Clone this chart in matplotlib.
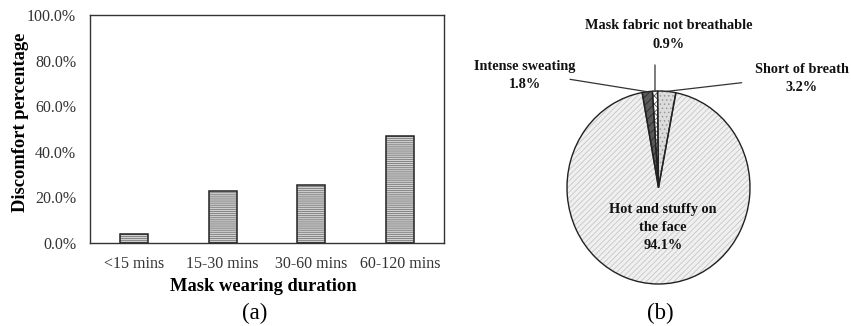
import numpy as np
import matplotlib
matplotlib.use('Agg')
import matplotlib.pyplot as plt

# Fonts: Times-like serif for everything
plt.rcParams['font.family'] = ['Liberation Serif', 'DejaVu Serif']
plt.rcParams['hatch.linewidth'] = 0.6

# ---- data ----
durations = ['<15 mins', '15-30 mins', '30-60 mins', '60-120 mins']
discomfort_pct = [4.1, 22.9, 25.3, 47.0]
y_ticks = [0, 20, 40, 60, 80, 100]

reasons = ['Intense sweating', 'Mask fabric not breathable', 'Short of breath',
           'Hot and stuffy on\nthe face']
reason_pct = [1.8, 0.9, 3.2, 94.1]

fig = plt.figure(figsize=(8.51, 3.26), dpi=100)
W, H = 851.0, 326.0

# ---- (a) bar chart ----
ax = fig.add_axes([90 / W, 1 - 243 / H, 354 / W, 228 / H])
x = np.arange(len(durations))
# hatch layer (edge colour drives hatch colour), then the outline on top
ax.bar(x, discomfort_pct, width=0.32, color='#d0d0d0', edgecolor='#7a7a7a',
       hatch='-' * 8, linewidth=0)
ax.bar(x, discomfort_pct, width=0.32, fill=False, edgecolor='#222222', linewidth=1.1)
ax.set_xlim(-0.5, len(durations) - 0.5)
ax.set_ylim(0, 100)
ax.set_yticks(y_ticks)
ax.set_yticklabels([f'{v:.1f}%' for v in y_ticks])
ax.set_xticks(x)
ax.set_xticklabels(durations)
ax.tick_params(axis='both', length=0, labelsize=11.5, colors='#333333')
ax.tick_params(axis='y', pad=10)
ax.tick_params(axis='x', pad=9)
for s in ax.spines.values():
    s.set_color('#333333')
    s.set_linewidth(1.0)
ax.set_xlabel('Mask wearing duration', fontsize=13.3, fontweight='bold')
ax.set_ylabel('Discomfort percentage', fontsize=13.3, fontweight='bold')
ax.xaxis.set_label_coords(0.49, -0.155)
ax.yaxis.set_label_coords(-0.172, 0.528)

fig.text(255 / W, 1 - 313 / H, '(a)', fontsize=16.5, ha='center', va='center')

# ---- (b) pie chart ----
rx, ry = 91.5, 96.5
cx, cy = 658.5, 187.5
pax = fig.add_axes([(cx - 1.25 * rx) / W, (H - cy - 1.25 * ry) / H,
                    2.5 * rx / W, 2.5 * ry / H])
faces = ['#5a5a5a', '#ffffff', '#dcdcdc', '#f0f0f0']
hatch_cols = ['#2a2a2a', '#555555', '#9a9a9a', '#c6c6c6']
hatches = ['////', 'xxxx', '....', '//////']
wedges, _ = pax.pie(reason_pct, startangle=100.3, counterclock=False,
                    colors=faces, wedgeprops=dict(linewidth=0))
for w, hc, h in zip(wedges, hatch_cols, hatches):
    w.set_edgecolor(hc)
    w.set_hatch(h)
pax.pie(reason_pct, startangle=100.3, counterclock=False,
        wedgeprops=dict(fill=False, edgecolor='#222222', linewidth=1.0))
pax.set_aspect('auto')
pax.set_xlim(-1.25, 1.25)
pax.set_ylim(-1.25, 1.25)
pax.axis('off')


def mid_point(w):
    a = np.deg2rad((w.theta1 + w.theta2) / 2)
    return np.cos(a), np.sin(a)


lbl = dict(fontsize=10.3, fontweight='bold', ha='center', va='center', color='#111111')
line = dict(arrowstyle='-', color='#333333', lw=0.9, shrinkA=0, shrinkB=0)

# Intense sweating
ex, ey = mid_point(wedges[0])
pax.annotate('', xy=(ex, ey), xytext=(-0.967, 1.121), arrowprops=line)
pax.text(-1.46, 1.16, f'{reasons[0]}\n{reason_pct[0]}%', linespacing=1.55, **lbl)

# Mask fabric not breathable
ex, ey = mid_point(wedges[1])
pax.annotate('', xy=(ex, ey), xytext=(ex, 1.27), arrowprops=line)
pax.text(0.115, 1.58, f'{reasons[1]}\n{reason_pct[1]}%', linespacing=1.6, **lbl)

# Short of breath
ex, ey = mid_point(wedges[2])
pax.annotate('', xy=(ex, ey), xytext=(0.909, 1.086), arrowprops=line)
pax.text(1.568, 1.13, f'{reasons[2]}\n{reason_pct[2]}%', linespacing=1.5, **lbl)

# Hot and stuffy
pax.text(0.05, -0.41, f'{reasons[3]}\n{reason_pct[3]}%', linespacing=1.5, **lbl)

fig.text(660 / W, 1 - 313 / H, '(b)', fontsize=16.5, ha='center', va='center')

fig.savefig('out.png', dpi=100)
